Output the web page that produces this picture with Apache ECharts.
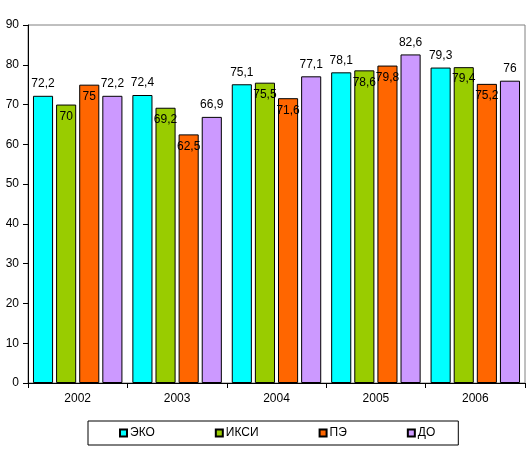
<!DOCTYPE html>
<html><head><meta charset="utf-8">
<script src="https://cdn.jsdelivr.net/npm/echarts@6/dist/echarts.min.js"></script>
<style>html,body{margin:0;padding:0;background:#fff}#c{width:530px;height:454px}</style>
</head><body><div id="c"></div>
<script>
const categories = ['2002', '2003', '2004', '2005', '2006'];
const seriesNames = ['ЭКО', 'ИКСИ', 'ПЭ', 'ДО'];
const eko  = [72.2, 72.4, 75.1, 78.1, 79.3];
const iksi = [70, 69.2, 75.5, 78.6, 79.4];
const pe   = [75, 62.5, 71.6, 79.8, 75.2];
const dO   = [72.2, 66.9, 77.1, 82.6, 76];
const yTicks = [0, 10, 20, 30, 40, 50, 60, 70, 80, 90];

const colors = ['#00FFFF', '#99CC00', '#FF6600', '#CC99FF'];
const positions = ['top', 'insideTop', 'insideTop', 'top'];
const dataSets = [eko, iksi, pe, dO];
const font = '"Liberation Sans", Arial, sans-serif';

const chart = echarts.init(document.getElementById('c'), null, {renderer: 'canvas'});
chart.setOption({
  animation: false,
  backgroundColor: '#fff',
  textStyle: {fontFamily: font},
  grid: {left: 28, right: 5, top: 25, bottom: 71, show: true, borderColor: '#808080', borderWidth: 1},
  legend: {
    left: 88, top: 421,
    padding: [6, 23, 6, 31],
    itemGap: 60,
    itemWidth: 7, itemHeight: 7,
    icon: 'rect',
    borderColor: '#000', borderWidth: 1,
    textStyle: {fontFamily: font, fontSize: 12, color: '#000', padding: [0, 0, 0, -2]},
    data: seriesNames
  },
  xAxis: {
    type: 'category', data: categories,
    axisLine: {lineStyle: {color: '#000'}},
    axisTick: {show: true, length: 5, lineStyle: {color: '#000'}},
    axisLabel: {color: '#000', fontSize: 12, fontFamily: font, margin: 10}
  },
  yAxis: {
    type: 'value', min: yTicks[0], max: yTicks[yTicks.length - 1], interval: 10,
    splitLine: {show: false},
    axisLine: {show: true, lineStyle: {color: '#000'}},
    axisTick: {show: true, length: 5, lineStyle: {color: '#000'}},
    axisLabel: {color: '#000', fontSize: 12, fontFamily: font, margin: 9}
  },
  series: seriesNames.map((n, i) => ({
    name: n, type: 'bar', data: dataSets[i],
    barGap: '15%', barCategoryGap: '10%',
    itemStyle: {color: colors[i], borderColor: '#000', borderWidth: 1},
    label: {
      show: true, position: positions[i], distance: 6,
      color: '#000', fontSize: 12, fontFamily: font,
      formatter: p => String(p.value).replace('.', ',')
    }
  }))
});
</script></body></html>
